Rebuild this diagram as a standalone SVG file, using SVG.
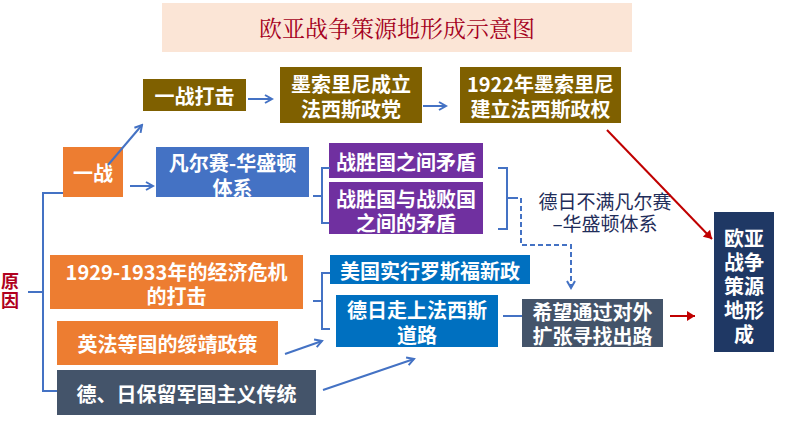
<svg xmlns="http://www.w3.org/2000/svg" width="794" height="447" viewBox="0 0 794 447">
<style>
.t{font-family:"Noto Sans CJK SC","Noto Sans",sans-serif;font-weight:700;font-size:20px;fill:#fff;text-anchor:middle;dominant-baseline:central}
.n{font-family:"Noto Sans CJK SC","Noto Sans",sans-serif;font-weight:400;font-size:19px;fill:#1f2d5a;text-anchor:middle;dominant-baseline:central}
.title{font-family:"Noto Serif CJK SC","Noto Sans CJK SC",serif;font-size:23px;fill:#a50021;text-anchor:middle;dominant-baseline:central}
.yy{font-family:"Noto Sans CJK SC",sans-serif;font-weight:700;font-size:18px;fill:#b00020;text-anchor:middle;dominant-baseline:central}
.brown{fill:#7f6000}.orange{fill:#ed7d31}.vb{fill:#4472c4}.purple{fill:#7030a0}.blue{fill:#0070c0}.slate{fill:#44546a}.navy{fill:#1f3864}
.c{fill:none;stroke:#4472c4;stroke-width:2}
.r{fill:none;stroke:#c00000;stroke-width:2}
.d{fill:none;stroke:#4472c4;stroke-width:2;stroke-dasharray:5,3}
</style>
<defs>
<marker id="ab" markerWidth="10" markerHeight="10" refX="8" refY="5" orient="auto" markerUnits="userSpaceOnUse">
<path d="M1,1 L8,5 L1,9" fill="none" stroke="#4472c4" stroke-width="2"/>
</marker>
<marker id="ar" markerWidth="12" markerHeight="12" refX="9" refY="6" orient="auto" markerUnits="userSpaceOnUse">
<path d="M1,1 L9,6 L1,11 Z" fill="#c00000"/>
</marker>
</defs>
<rect width="794" height="447" fill="#fff"/>
<g id="title">
<rect x="162" y="3" width="470" height="49" fill="#fbe5d6"/>
<text class="title" x="397" y="27">欧亚战争策源地形成示意图</text>
</g>
<g id="yuanyin">
<text class="yy" x="10" y="280">原</text>
<text class="yy" x="10" y="299">因</text>
</g>
<g id="n-yizhandaji"><rect class="brown" x="143" y="79" width="103" height="32"/><text class="t" x="194.5" y="95">一战打击</text></g>
<g id="n-mosuolini"><rect class="brown" x="280" y="67" width="142" height="56"/><text class="t" x="351" y="83">墨索里尼成立</text><text class="t" x="351" y="108">法西斯政党</text></g>
<g id="n-1922"><rect class="brown" x="460" y="67" width="161" height="56"/><text class="t" x="540.5" y="83">1922年墨索里尼</text><text class="t" x="540.5" y="108">建立法西斯政权</text></g>
<g id="n-yizhan"><rect class="orange" x="63" y="147" width="60" height="50"/><text class="t" x="93" y="172">一战</text></g>
<g id="n-fanersai"><rect class="vb" x="156" y="147" width="153" height="50"/><text class="t" x="232.5" y="162">凡尔赛-华盛顿</text><text class="t" x="232.5" y="187">体系</text></g>
<g id="n-maodun1"><rect class="purple" x="329" y="143" width="154" height="35"/><text class="t" x="406" y="161">战胜国之间矛盾</text></g>
<g id="n-maodun2"><rect class="purple" x="329" y="182" width="154" height="52"/><text class="t" x="406" y="198">战胜国与战败国</text><text class="t" x="406" y="222">之间的矛盾</text></g>
<g id="n-buman"><text class="n" x="605" y="200">德日不满凡尔赛</text><text class="n" x="605" y="222">–华盛顿体系</text></g>
<g id="n-ouya"><rect class="navy" x="714" y="212" width="60" height="140"/>
<text class="t" x="744" y="237">欧亚</text><text class="t" x="744" y="261">战争</text><text class="t" x="744" y="285">策源</text><text class="t" x="744" y="309">地形</text><text class="t" x="744" y="333">成</text></g>
<g id="n-jingji"><rect class="orange" x="50" y="255" width="253" height="54"/><text class="t" x="176.5" y="271">1929-1933年的经济危机</text><text class="t" x="176.5" y="295">的打击</text></g>
<g id="n-suijing"><rect class="orange" x="57" y="321" width="221" height="44"/><text class="t" x="167.5" y="343">英法等国的绥靖政策</text></g>
<g id="n-junguo"><rect class="slate" x="57" y="370" width="259" height="45"/><text class="t" x="186.5" y="393">德、日保留军国主义传统</text></g>
<g id="n-meiguo"><rect class="blue" x="330" y="255" width="200" height="29"/><text class="t" x="430" y="270">美国实行罗斯福新政</text></g>
<g id="n-faxisi"><rect class="blue" x="336" y="295" width="162" height="52"/><text class="t" x="417" y="309">德日走上法西斯</text><text class="t" x="417" y="334">道路</text></g>
<g id="n-xiwang"><rect class="slate" x="522" y="299" width="141" height="48"/><text class="t" x="592.5" y="311">希望通过对外</text><text class="t" x="592.5" y="335">扩张寻找出路</text></g>
<g id="connectors">
<path class="c" d="M63,193 H43 V391 H57 M43,292 H28"/>
<path class="c" d="M330,168 H322 V223 H329 M322,196 H313"/>
<path class="c" d="M498,168 H507 V229 H498 M507,198 H518"/>
<path class="c" d="M330,273 H322 V329 H330 M322,301 H313"/>
<path class="c" d="M503,316 H522"/>
<path class="d" d="M521,198 V245 H571 V288" marker-end="url(#ab)"/>
<path class="c" d="M108,165 L142,125" marker-end="url(#ab)"/>
<path class="c" d="M248,99 H272" marker-end="url(#ab)"/>
<path class="c" d="M423,106 H446" marker-end="url(#ab)"/>
<path class="c" d="M130,186 H153" marker-end="url(#ab)"/>
<path class="c" d="M285,354 L322,341" marker-end="url(#ab)"/>
<path class="c" d="M323,390 L414,359" marker-end="url(#ab)"/>
<path class="r" d="M607,130 L712,239" marker-end="url(#ar)"/>
<path class="r" d="M670,316 H695" marker-end="url(#ar)"/>
</g>
</svg>
